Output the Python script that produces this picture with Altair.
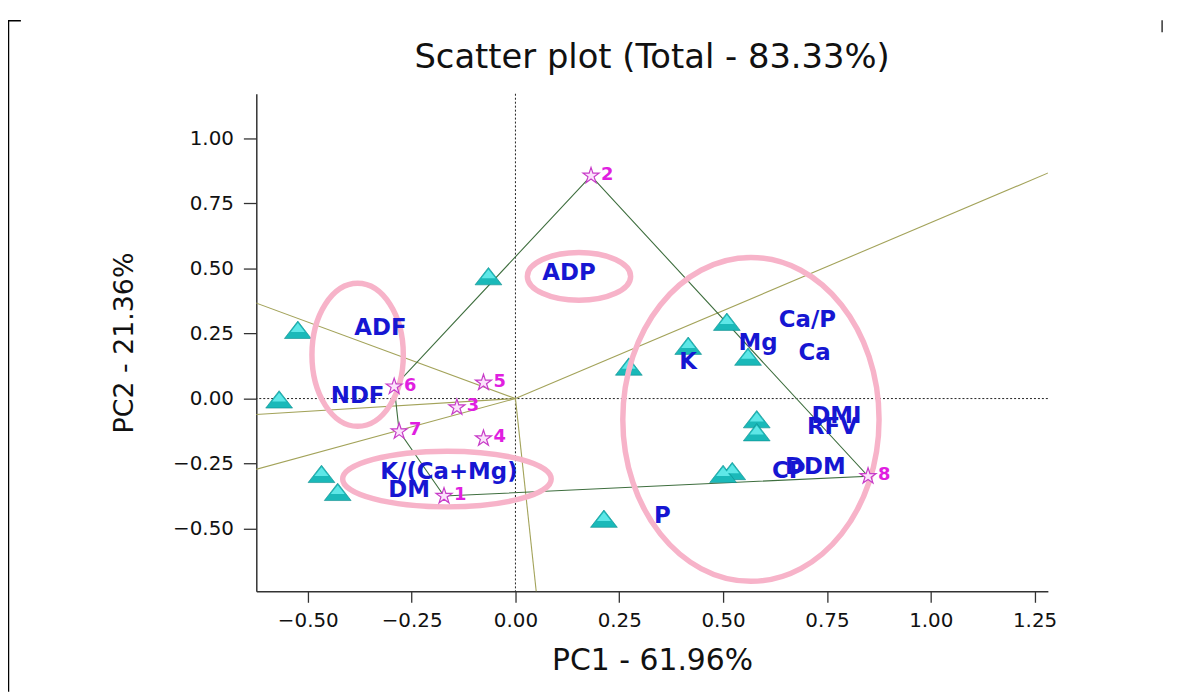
import altair as alt
import pandas as pd

# ---------------- data ----------------
# triangles (trait markers)
tri_x = [-0.524, -0.569, -0.065, -0.467, -0.428, 0.273, 0.416, 0.509, 0.560, 0.581, 0.581, 0.522, 0.500, 0.213]
tri_y = [0.263, -0.004, 0.469, -0.290, -0.359, 0.122, 0.202, 0.294, 0.160, -0.080, -0.130, -0.279, -0.290, -0.462]

# blue trait labels
lab_names = ["ADP", "ADF", "NDF", "K/(Ca+Mg)", "DM", "Ca/P", "Mg", "Ca", "K", "DMI", "RFV", "DDM", "CP", "P"]
lab_x = [0.129, -0.325, -0.380, -0.160, -0.256, 0.703, 0.584, 0.720, 0.416, 0.773, 0.763, 0.722, 0.658, 0.354]
lab_y = [0.481, 0.271, 0.008, -0.282, -0.351, 0.302, 0.214, 0.176, 0.141, -0.069, -0.111, -0.263, -0.279, -0.450]

# stars (genotypes 1..8)
star_id = ["1", "2", "3", "4", "5", "6", "7", "8"]
star_x = [-0.172, 0.182, -0.141, -0.077, -0.077, -0.292, -0.280, 0.849]
star_y = [-0.374, 0.855, -0.034, -0.153, 0.061, 0.046, -0.126, -0.298]

# polygon through outer stars
hull_order = ["2", "8", "1", "7", "6", "2"]

# rays from the origin (end points at the plot edge)
ray_x_end = [1.29, -0.63, -0.63, -0.63, 0.0507]
ray_y_end = [0.871, 0.370, -0.0616, -0.274, -0.75]

# highlighted groups (ellipse centres)
ell_x = [-0.380, 0.153, -0.165, 0.567]
ell_y = [0.168, 0.469, -0.309, -0.080]

x_ticks = [-0.5, -0.25, 0.0, 0.25, 0.5, 0.75, 1.0, 1.25]
y_ticks = [-0.5, -0.25, 0.0, 0.25, 0.5, 0.75, 1.0]

# ---------------- styling helpers ----------------
FONT = "DejaVu Sans"
W, H = 797, 501
XDOM = [-0.624, 1.282]
YDOM = [-0.74, 1.17]


def ell_path(rx, ry):
    kx, ky = 0.5523 * rx, 0.5523 * ry
    return (f"M {-rx} 0 C {-rx} {-ky} {-kx} {-ry} 0 {-ry} "
            f"C {kx} {-ry} {rx} {-ky} {rx} 0 "
            f"C {rx} {ky} {kx} {ry} 0 {ry} "
            f"C {-kx} {ry} {-rx} {ky} {-rx} 0 Z")


ell_radii = [(46, 72), (52, 24), (105, 28), (129, 163)]

TRI = "M 0 -9 L 13.5 8.5 L -13.5 8.5 Z"
TRI_HI = "M 0 -7 L 7 2 L -7 2 Z"
R = 8.5
star_pts = [(0, -1), (0.225, -0.309), (0.951, -0.309), (0.363, 0.118), (0.588, 0.809),
            (0, 0.382), (-0.588, 0.809), (-0.363, 0.118), (-0.951, -0.309), (-0.225, -0.309)]
STAR = "M " + " L ".join(f"{px * R:.2f} {py * R:.2f}" for px, py in star_pts) + " Z"

xs = alt.Scale(domain=XDOM, nice=False, zero=False)
ys = alt.Scale(domain=YDOM, nice=False, zero=False)

xax = alt.Axis(values=x_ticks, format=".2f", title="PC1 - 61.96%", grid=False,
               labelFontSize=20, labelFont=FONT, labelColor="#111", tickSize=11,
               tickColor="#333", domainColor="#333", domainWidth=1.5, tickWidth=1.3,
               labelPadding=8, titleFont=FONT, titleFontSize=30, titleFontWeight="normal",
               titleColor="#111", titlePadding=16)
yax = alt.Axis(values=y_ticks, format=".2f", title="PC2 - 21.36%", grid=False,
               labelFontSize=20, labelFont=FONT, labelColor="#111", tickSize=13,
               tickColor="#333", domainColor="#333", domainWidth=1.5, tickWidth=1.3,
               labelPadding=10, titleFont=FONT, titleFontSize=27, titleFontWeight="normal",
               titleColor="#111", titlePadding=34)

# ---------------- tables ----------------
tri_df = pd.DataFrame({"x": tri_x, "y": tri_y})
lab_df = pd.DataFrame({"x": lab_x, "y": lab_y, "name": lab_names})
star_df = pd.DataFrame({"x": star_x, "y": star_y, "id": star_id})
pos = {s: (a, b) for s, a, b in zip(star_id, star_x, star_y)}
hull_df = pd.DataFrame({"x": [pos[s][0] for s in hull_order],
                        "y": [pos[s][1] for s in hull_order],
                        "o": list(range(len(hull_order)))})
ray_df = pd.DataFrame({"x": [0.0] * len(ray_x_end), "y": [0.0] * len(ray_x_end),
                       "x2": ray_x_end, "y2": ray_y_end})
one = pd.DataFrame({"a": [0]})

# ---------------- layers ----------------
base_axes = alt.Chart(tri_df).mark_point(opacity=0).encode(
    x=alt.X("x:Q", scale=xs, axis=xax),
    y=alt.Y("y:Q", scale=ys, axis=yax),
)

vzero = alt.Chart(one).mark_rule(color="#222", strokeDash=[2, 2], strokeWidth=1).encode(
    x=alt.datum(0.0, scale=xs))
hzero = alt.Chart(one).mark_rule(color="#222", strokeDash=[2, 2], strokeWidth=1).encode(
    y=alt.datum(0.0, scale=ys))

rays = alt.Chart(ray_df).mark_rule(color="#a3a35a", strokeWidth=1.1, clip=True).encode(
    x=alt.X("x:Q", scale=xs), y=alt.Y("y:Q", scale=ys), x2="x2:Q", y2="y2:Q")

hull = alt.Chart(hull_df).mark_line(color="#3e6e3e", strokeWidth=1.1).encode(
    x=alt.X("x:Q", scale=xs), y=alt.Y("y:Q", scale=ys), order="o:Q")

tri = alt.Chart(tri_df).mark_point(shape=TRI, size=4, filled=True, fill="#1ab9b9",
                                   stroke="#0c8c8c", strokeWidth=0.6, opacity=1).encode(
    x=alt.X("x:Q", scale=xs), y=alt.Y("y:Q", scale=ys))
tri_hi = alt.Chart(tri_df).mark_point(shape=TRI_HI, size=4, filled=True, fill="#66ecec",
                                      strokeWidth=0, opacity=0.9).encode(
    x=alt.X("x:Q", scale=xs), y=alt.Y("y:Q", scale=ys))

ells = []
for i, (rx, ry) in enumerate(ell_radii):
    e_df = pd.DataFrame({"x": [ell_x[i]], "y": [ell_y[i]]})
    ells.append(alt.Chart(e_df).mark_point(shape=ell_path(rx, ry), size=4, filled=False,
                                           stroke="#f7b3c9", strokeWidth=5.5, opacity=1).encode(
        x=alt.X("x:Q", scale=xs), y=alt.Y("y:Q", scale=ys)))

stars = alt.Chart(star_df).mark_point(shape=STAR, size=4, filled=True, fill="#fbe3fb",
                                      stroke="#c83cc8", strokeWidth=1.2, opacity=1).encode(
    x=alt.X("x:Q", scale=xs), y=alt.Y("y:Q", scale=ys))
star_txt = alt.Chart(star_df).mark_text(align="left", baseline="middle", dx=10, dy=-1,
                                        font=FONT, fontSize=18, fontWeight="bold",
                                        color="#e01fe0").encode(
    x=alt.X("x:Q", scale=xs), y=alt.Y("y:Q", scale=ys), text="id:N")

labels = alt.Chart(lab_df).mark_text(align="center", baseline="middle", font=FONT,
                                     fontSize=23, fontWeight="bold", color="#1616d2").encode(
    x=alt.X("x:Q", scale=xs), y=alt.Y("y:Q", scale=ys), text="name:N")

# figure frame (crop marks of the original picture)
frame_v = alt.Chart(one).mark_rule(color="#000", strokeWidth=1.5).encode(
    x=alt.value(-249.5), y=alt.value(-74), y2=alt.value(602))
frame_h = alt.Chart(one).mark_rule(color="#000", strokeWidth=1.5).encode(
    x=alt.value(-250), x2=alt.value(-237), y=alt.value(-73.5))
frame_r = alt.Chart(one).mark_rule(color="#000", strokeWidth=1.2).encode(
    x=alt.value(912), y=alt.value(-74), y2=alt.value(-62))

chart = alt.layer(
    base_axes, vzero, hzero, rays, hull, tri, tri_hi, *ells, stars, star_txt, labels,
    frame_v, frame_h, frame_r
).properties(
    width=W, height=H,
    autosize="none",
    padding={"left": 250, "top": 84, "right": 128, "bottom": 101},
    title=alt.TitleParams("Scatter plot (Total - 83.33%)", font=FONT, fontSize=34,
                          fontWeight="normal", color="#111", anchor="middle",
                          frame="group", offset=-56),
).configure(background="white").configure_view(strokeWidth=0, strokeOpacity=0)

chart.save("out.html", embed_options={"renderer": "svg", "actions": False})
